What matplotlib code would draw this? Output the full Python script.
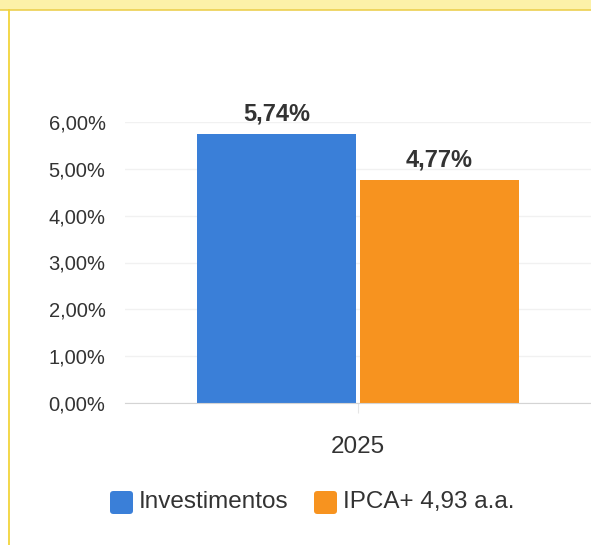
import matplotlib.pyplot as plt
from matplotlib.patches import FancyBboxPatch, Rectangle
from matplotlib.lines import Line2D

plt.rcParams['font.family'] = ['Liberation Sans', 'DejaVu Sans']

# data
category = ['2025']
series = ['Investimentos', 'IPCA+ 4,93 a.a.']
values = [5.74, 4.77]
colors = ['#3a7fd8', '#f7931f']
yticks = [0, 1, 2, 3, 4, 5, 6]

fig = plt.figure(figsize=(5.91, 5.45), dpi=100)

# yellow frame on top and left
fig.patches.append(Rectangle((0, 1 - 10/545), 1, 10/545, transform=fig.transFigure,
                             facecolor='#fcf1a8', edgecolor='none', zorder=0))
fig.add_artist(Line2D([0, 1], [1 - 10/545, 1 - 10/545], transform=fig.transFigure,
                      color='#ecd050', lw=1.2))
fig.add_artist(Line2D([9/591, 9/591], [0, 1 - 10/545], transform=fig.transFigure,
                      color='#f2d43c', lw=1.3))

ax = fig.add_axes([125/591, 142/545, 466/591, 281/545])

offsets = [-0.175, 0.175]
for i, (name, v) in enumerate(zip(series, values)):
    ax.bar(offsets[i], v, width=0.34, color=colors[i], zorder=2)
    ax.annotate(f'{v:.2f}%'.replace('.', ','), (offsets[i], v), xytext=(0, 6),
                textcoords='offset points', ha='center', va='bottom',
                fontsize=17, fontweight='bold', color='#333333')

ax.set_xlim(-0.5, 0.5)
ax.set_ylim(0, 6)
ax.set_yticks(yticks)
ax.set_yticklabels([f'{t:.2f}%'.replace('.', ',') for t in yticks])
ax.set_xticks([0])
ax.set_xticklabels(category)
ax.tick_params(axis='y', length=0, pad=14, labelsize=14.5, labelcolor='#333333')
ax.tick_params(axis='x', length=7, width=0.8, color='#e6e6e6', pad=17,
               labelsize=17.5, labelcolor='#333333')
ax.grid(axis='y', color='#f1f1f1', lw=1, zorder=0)
for s in ['top', 'right', 'left']:
    ax.spines[s].set_visible(False)
ax.spines['bottom'].set_color('#d4d4d4')
ax.spines['bottom'].set_zorder(3)

# legend with rounded squares
leg_x = [110, 314]
for i, name in enumerate(series):
    x0 = leg_x[i] / 591
    fig.patches.append(FancyBboxPatch((x0, (545 - 514) / 545), 23/591, 23/545,
                                      boxstyle='round,pad=0,rounding_size=0.006',
                                      transform=fig.transFigure,
                                      facecolor=colors[i], edgecolor='none'))
    fig.text(x0 + 29/591, (545 - 502) / 545, name, fontsize=17.5, color='#333333',
             va='center', ha='left')

fig.savefig('out.png', dpi=100)
